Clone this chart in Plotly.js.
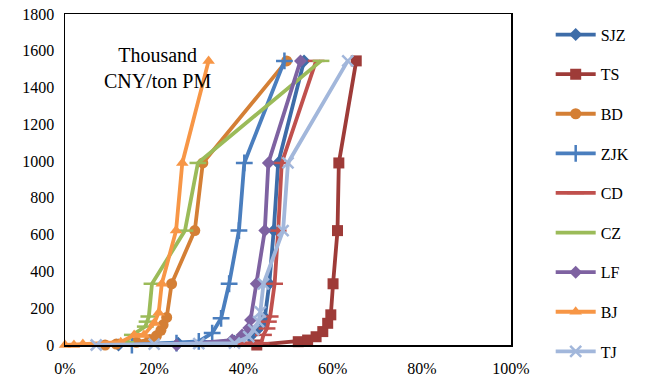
<!DOCTYPE html>
<html><head><meta charset="utf-8">
<script src="https://cdn.plot.ly/plotly-3.0.1.min.js"></script>
<style>html,body{margin:0;padding:0;background:#fff;}#chart{width:646px;height:382px;}</style>
</head><body><div id="chart"></div>
<script>
// share of PM reduction (%) and marginal cost (thousand CNY/ton PM)
const SJZ_x = [12, 25.4, 38, 41.5, 43, 44, 44.8, 45.8, 46.8, 47.8, 53.6];
const SJZ_y = [0, 10, 20, 45, 80, 110, 150, 333, 622, 990, 1545];
const TS_x = [43, 52.3, 54.4, 56.3, 57.8, 58.9, 59.6, 60.1, 61.1, 61.4, 65.3];
const TS_y = [0, 18, 27, 45, 73, 118, 164, 333, 622, 990, 1545];
const BD_x = [9, 11.5, 16, 19, 20.5, 21.5, 22, 22.8, 23.9, 29.1, 30.9, 49.7];
const BD_y = [0, 5, 15, 30, 50, 80, 110, 150, 333, 622, 990, 1545];
const ZJK_x = [15, 25, 30, 33, 35, 36.8, 39, 40.2, 49.2];
const ZJK_y = [0, 10, 20, 65, 145, 333, 622, 990, 1545];
const CD_x = [18, 30, 44, 44.5, 45.3, 45.6, 46, 47, 47.8, 48.6, 56.3];
const CD_y = [0, 3, 10, 55, 90, 127, 155, 333, 622, 990, 1545];
const CZ_x = [5, 13.6, 15.1, 18, 18.4, 18.8, 19.5, 26.9, 29.8, 57.4];
const CZ_y = [0, 15, 55, 100, 127, 155, 333, 622, 990, 1545];
const LF_x = [25, 37.5, 39.7, 41.2, 41.6, 42.9, 44.8, 45.6, 52.8];
const LF_y = [0, 27, 55, 93, 136, 333, 622, 990, 1545];
const BJ_x = [0, 2, 4, 12.5, 15.5, 17.7, 20, 21, 21.7, 24.9, 26.3, 32.2];
const BJ_y = [0, 0, 5, 15, 55, 55, 120, 175, 333, 622, 990, 1545];
const TJ_x = [7, 20, 30, 38, 41.2, 42.3, 43.4, 43.8, 44.5, 48.9, 50, 63.4];
const TJ_y = [0, 5, 8, 10, 45, 82, 127, 180, 333, 622, 990, 1545];

const seriesNames = ['SJZ','TS','BD','ZJK','CD','CZ','LF','BJ','TJ'];
const seriesX = [SJZ_x, TS_x, BD_x, ZJK_x, CD_x, CZ_x, LF_x, BJ_x, TJ_x];
const seriesY = [SJZ_y, TS_y, BD_y, ZJK_y, CD_y, CZ_y, LF_y, BJ_y, TJ_y];
const colors = ['#3D6CA8','#9E3B38','#D47F35','#4A7EBE','#C0504D','#9BBB59','#7E62A1','#F79646','#A2B7DB'];
const symbols = ['diamond','square','circle','cross-thin-open','line-ew-open','line-ew-open','diamond','triangle-up','x-thin-open'];
const sizes = [10, 11, 11, 12, 12, 12, 10, 11, 11];
const FONT = 'Liberation Serif';

const traces = seriesNames.map((n,i)=>({
  type:'scatter', mode:'lines+markers', name:n,
  x: seriesX[i].map(v=>v/100), y: seriesY[i],
  line:{color:colors[i], width:3.8},
  marker:{symbol:symbols[i], size:sizes[i], color:colors[i], line:{color:colors[i], width:(symbols[i].indexOf('open')>=0?2.5:0)}},
  cliponaxis:false, legendgroup:'g'+i,
  legend: i < 8 ? 'legend' : 'legend2'
}));

const legendBase = {x:1.089, xanchor:'left', yanchor:'top', tracegroupgap:15.8,
  font:{family:FONT, size:16, color:'#000'}, itemwidth:40, bgcolor:'rgba(0,0,0,0)'};

const layout = {
  width:646, height:382,
  margin:{l:65, r:126, t:14, b:37},
  paper_bgcolor:'#fff', plot_bgcolor:'#fff',
  font:{family:FONT, size:16, color:'#000'},
  xaxis:{range:[0,1], dtick:0.2, tickformat:'.0%', showgrid:false, zeroline:false,
         showline:true, linecolor:'#000', linewidth:1.5, mirror:true, ticks:'', ticklabelstandoff:8,
         tickfont:{family:FONT, size:16, color:'#000'}},
  yaxis:{range:[0,1800], dtick:200, showgrid:false, zeroline:false,
         showline:true, linecolor:'#000', linewidth:1.5, mirror:true, ticks:'', ticklabelstandoff:6,
         tickfont:{family:FONT, size:16, color:'#000'}},
  legend: Object.assign({}, legendBase, {y:0.989}),
  legend2: Object.assign({}, legendBase, {y:0.032}),
  annotations:[{text:'Thousand<br>CNY/ton PM', xref:'paper', yref:'paper', x:0.208, y:0.915,
                xanchor:'center', yanchor:'top', showarrow:false,
                font:{family:FONT, size:20, color:'#000'}}],
  showlegend:true
};
Plotly.newPlot('chart', traces, layout, {displayModeBar:false, staticPlot:true});
</script></body></html>
